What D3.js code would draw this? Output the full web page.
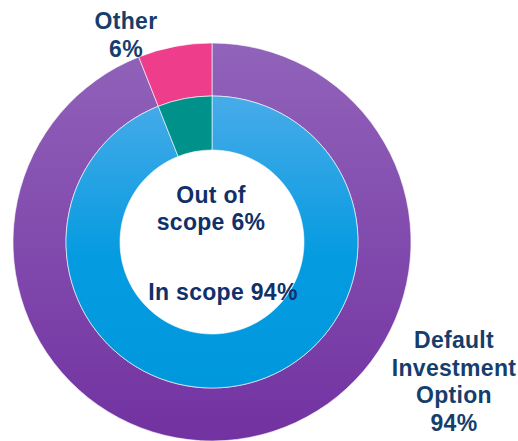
<!DOCTYPE html>
<html>
<head>
<meta charset="utf-8">
<script src="https://cdn.jsdelivr.net/npm/d3@7"></script>
<style>
  html, body { margin: 0; padding: 0; background: #fff; }
  svg { display: block; }
  text { font-family: "Liberation Sans", Arial, sans-serif; font-weight: bold; }
</style>
</head>
<body>
<svg id="chart" width="518" height="441"></svg>
<script>
// Outer ring: share of assets by option type
const outerCategories = ["Default Investment Option", "Other"];
const outerValues = [94, 6];
// Inner ring: share of assets in / out of scope
const innerCategories = ["In scope", "Out of scope"];
const innerValues = [94, 6];

const svg = d3.select("#chart");
const cx = 212, cy = 242;
const outerR = 199, midR = 146, holeR = 92;

const defs = svg.append("defs");
// Vertical gradients in the ring group's own coordinates (origin at the centre)
function vGrad(id, r, stops) {
  const g = defs.append("linearGradient")
    .attr("id", id).attr("gradientUnits", "userSpaceOnUse")
    .attr("x1", 0).attr("y1", -r).attr("x2", 0).attr("y2", r);
  stops.forEach(([o, c]) => g.append("stop").attr("offset", o).attr("stop-color", c));
}
vGrad("purpleGrad", outerR, [["0%", "#9163ba"], ["100%", "#7232a1"]]);
vGrad("blueGrad", midR, [["0%", "#48abe9"], ["55%", "#059be0"], ["100%", "#0098dd"]]);

const outerColors = ["url(#purpleGrad)", "#ee3d8b"];
const innerColors = ["url(#blueGrad)", "#00928a"];

// Largest slice runs clockwise from 12 o'clock; the small one closes the circle
const pie = d3.pie().sort(null).value(d => d);
const g = svg.append("g").attr("transform", `translate(${cx},${cy})`);

const outerArc = d3.arc().innerRadius(midR).outerRadius(outerR);
const innerArc = d3.arc().innerRadius(holeR).outerRadius(midR);

g.selectAll("path.outer").data(pie(outerValues)).join("path")
  .attr("class", "outer")
  .attr("d", outerArc)
  .attr("fill", (d, i) => outerColors[i])
  .attr("stroke", "#fff").attr("stroke-width", 0.6);

g.selectAll("path.inner").data(pie(innerValues)).join("path")
  .attr("class", "inner")
  .attr("d", innerArc)
  .attr("fill", (d, i) => innerColors[i])
  .attr("stroke", "#fff").attr("stroke-width", 0.6);

function label(lines, x, y0, lh, color) {
  const t = svg.append("text")
    .attr("text-anchor", "middle")
    .attr("font-size", 23)
    .attr("letter-spacing", "0.3px")
    .attr("fill", color);
  lines.forEach((s, i) => t.append("tspan").attr("x", x).attr("y", y0 + i * lh).text(s));
  return t;
}

// Ring labels
label([outerCategories[1], outerValues[1] + "%"], 126, 29, 28, "#163e6c");
label(["Default", "Investment", "Option", outerValues[0] + "%"], 454, 348, 27.5, "#163e6c");

// Hole labels
label(["Out of", "scope " + innerValues[1] + "%"], 211, 203, 27, "#10306a");
label([innerCategories[0] + " " + innerValues[0] + "%"], 223, 300, 27, "#10306a");
</script>
</body>
</html>
